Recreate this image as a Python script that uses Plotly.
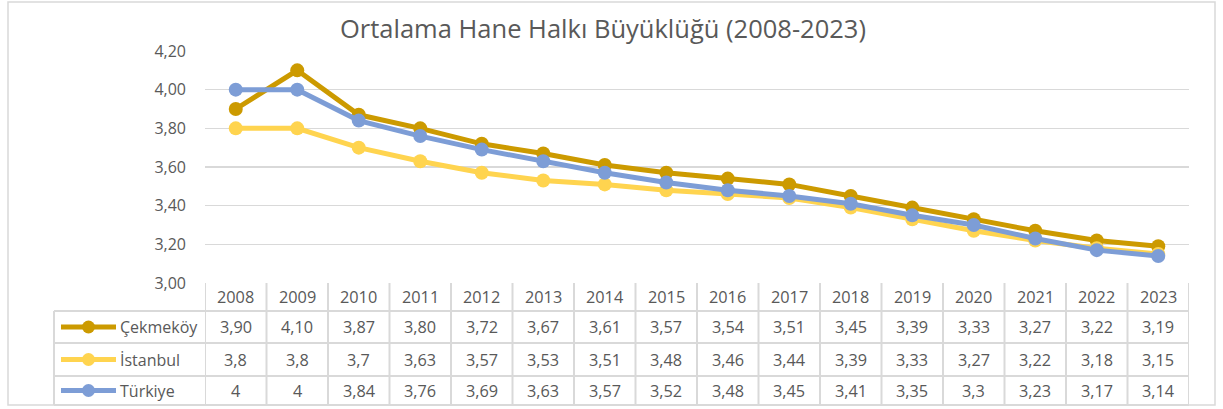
import plotly.graph_objects as go

# ---- data ----
years = ["2008", "2009", "2010", "2011", "2012", "2013", "2014", "2015",
         "2016", "2017", "2018", "2019", "2020", "2021", "2022", "2023"]
cekmekoy = [3.90, 4.10, 3.87, 3.80, 3.72, 3.67, 3.61, 3.57, 3.54, 3.51, 3.45, 3.39, 3.33, 3.27, 3.22, 3.19]
istanbul = [3.8, 3.8, 3.7, 3.63, 3.57, 3.53, 3.51, 3.48, 3.46, 3.44, 3.39, 3.33, 3.27, 3.22, 3.18, 3.15]
turkiye = [4, 4, 3.84, 3.76, 3.69, 3.63, 3.57, 3.52, 3.48, 3.45, 3.41, 3.35, 3.3, 3.23, 3.17, 3.14]
series_names = ["Çekmeköy", "İstanbul", "Türkiye"]
y_ticks = [3.0, 3.2, 3.4, 3.6, 3.8, 4.0, 4.2]
title_text = "Ortalama Hane Halkı Büyüklüğü (2008-2023)"

W, H = 1223, 409
colors = ["#CC9A00", "#FFD44F", "#7D9DD6"]
TXT = "#595959"
GRID = "#D9D9D9"
FONT = "Open Sans"

def px(x):
    return x / W

def py(y):
    return 1 - y / H

def fmt2(v):
    return f"{v:.2f}".replace(".", ",")

def fmtg(v):
    return f"{v:g}".replace(".", ",")

series = [cekmekoy, istanbul, turkiye]
labels = [[fmt2(v) for v in cekmekoy], [fmtg(v) for v in istanbul], [fmtg(v) for v in turkiye]]

xs = list(range(len(years)))
fig = go.Figure()
for name, vals, c in zip(series_names, series, colors):
    fig.add_trace(go.Scatter(
        x=xs, y=vals, mode="lines+markers", name=name,
        line=dict(color=c, width=5),
        marker=dict(color=c, size=14),
        showlegend=False, hoverinfo="skip",
    ))

# plot area geometry (pixels)
X0, X1 = 205, 1189
Y_TOP, Y_BOT = 51, 283
ROW_LINES = [283, 311, 343, 376, 405]
LEG_X0 = 54

shapes = []
annotations = []
# outer border
shapes.append(dict(type="rect", xref="paper", yref="paper",
                   x0=px(8), x1=px(1215), y0=py(405), y1=py(2),
                   line=dict(color=GRID, width=1.5), layer="below"))
# table vertical lines
for i in range(len(years) + 1):
    shapes.append(dict(type="line", xref="x", yref="paper",
                       x0=i - 0.5, x1=i - 0.5, y0=py(283), y1=py(405),
                       line=dict(color=GRID, width=2)))
shapes.append(dict(type="line", xref="paper", yref="paper",
                   x0=px(LEG_X0), x1=px(LEG_X0), y0=py(311), y1=py(405),
                   line=dict(color=GRID, width=2)))
# table horizontal lines
for yy in ROW_LINES[1:]:
    shapes.append(dict(type="line", xref="paper", yref="paper",
                       x0=px(LEG_X0), x1=px(X1), y0=py(yy), y1=py(yy),
                       line=dict(color=GRID, width=2)))

cell_font = dict(family=FONT, size=16.3, color=TXT)
# header text
hdr_y = (ROW_LINES[0] + ROW_LINES[1]) / 2
for i, yr in enumerate(years):
    annotations.append(dict(x=i, y=py(hdr_y), xref="x", yref="paper", text=yr,
                            xanchor="center", yanchor="middle",
                            showarrow=False, font=cell_font))
# rows
for r in range(3):
    cy = (ROW_LINES[r + 1] + ROW_LINES[r + 2]) / 2
    for i, lab in enumerate(labels[r]):
        annotations.append(dict(x=i, y=py(cy), xref="x", yref="paper", text=lab,
                                xanchor="center", yanchor="middle",
                                showarrow=False, font=cell_font))
    # legend key
    shapes.append(dict(type="line", xref="paper", yref="paper",
                       x0=px(61), x1=px(116), y0=py(cy), y1=py(cy),
                       line=dict(color=colors[r], width=5)))
    shapes.append(dict(type="circle", xref="paper", yref="paper",
                       x0=px(82), x1=px(95), y0=py(cy + 6.5), y1=py(cy - 6.5),
                       fillcolor=colors[r], line=dict(color=colors[r], width=0)))
    annotations.append(dict(x=px(118), y=py(cy), xref="paper", yref="paper",
                            text=series_names[r], showarrow=False,
                            xanchor="left", yanchor="middle",
                            font=dict(family=FONT, size=16, color=TXT)))

# title
annotations.append(dict(x=px(603), y=py(28), xref="paper", yref="paper",
                        text=title_text, showarrow=False,
                        xanchor="center", yanchor="middle",
                        font=dict(family=FONT, size=25.5, color=TXT)))

fig.update_layout(
    width=W, height=H,
    margin=dict(l=0, r=0, t=0, b=0, autoexpand=False),
    paper_bgcolor="white", plot_bgcolor="white",
    separators=",.",
    xaxis=dict(domain=[px(X0), px(X1)], range=[-0.5, len(years) - 0.5],
               showgrid=False, showticklabels=False, zeroline=False,
               showline=False, fixedrange=True, automargin=False),
    yaxis=dict(domain=[py(Y_BOT), py(Y_TOP)], range=[3.0, 4.2],
               tickvals=y_ticks, tickformat=".2f",
               showgrid=True, gridcolor=GRID, gridwidth=1.5,
               zeroline=False, showline=False, ticks="",
               ticklabelstandoff=18, automargin=False, fixedrange=True,
               tickfont=dict(family=FONT, size=16, color=TXT)),
    shapes=shapes,
    annotations=annotations,
)

fig.write_html("out.html",
               config={"displayModeBar": False, "staticPlot": True},
               post_script="document.body.style.margin='0';document.body.style.overflow='hidden';")
